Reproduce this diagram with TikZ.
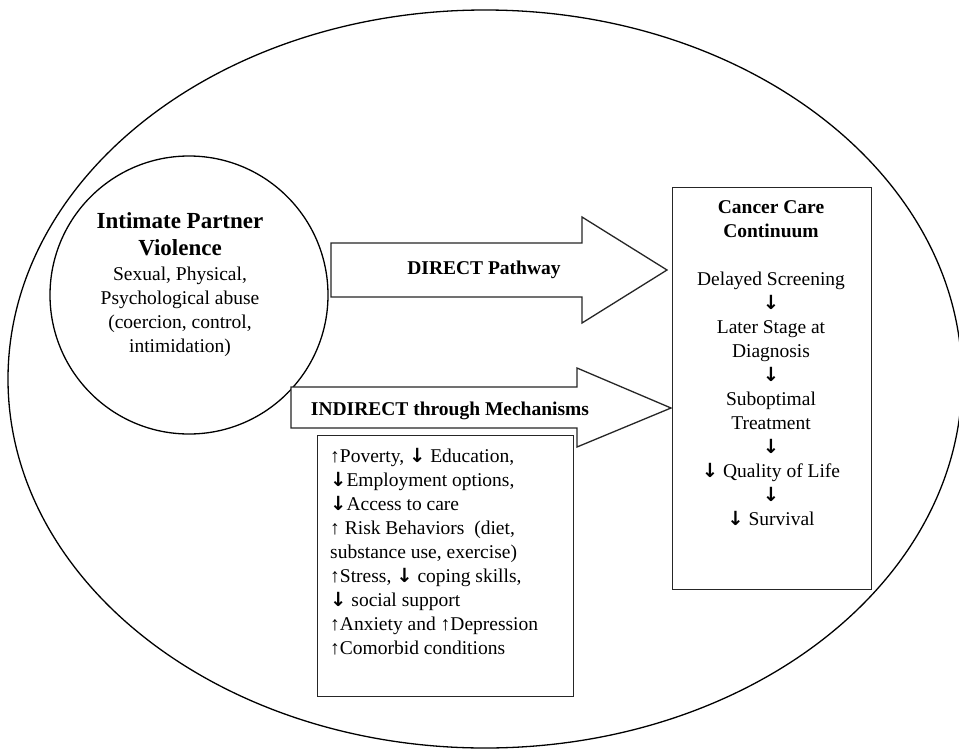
\documentclass[tikz,border=0pt]{standalone}
\usepackage{fontspec}
\setmainfont{Liberation Serif}
\newfontfamily\arrowfont{DejaVu Sans}
\usetikzlibrary{positioning}
\def\dn{{\arrowfont\bfseries ↓}}
\def\up{↑}
\tikzset{
	frame/.style={draw=black!85, line width=1.3pt},
	body/.style={font=\fontsize{19.5}{24}\selectfont, inner sep=0pt},
	heading/.style={font=\fontsize{19.5}{24}\selectfont\bfseries, inner sep=0pt},
}

\begin{document}
\begin{tikzpicture}[x=1pt, y=-1pt]
			%%%%% START %%%%%
			\useasboundingbox (0,0) rectangle (959,750);
			\fill[white] (0,0) rectangle (959,750);
			
			\draw[line width=1.3pt] (485,379) ellipse [x radius=477pt, y radius=369pt];
			
			\draw[line width=1.3pt] (189,295) circle [radius=139pt];
			\node[body, font=\fontsize{23}{27.5}\selectfont\bfseries, align=center, anchor=north] (ipvtitle) at (180,212) {Intimate Partner\\Violence};
			\node[body, align=center, anchor=north] (ipvtext) at (180,267) {Sexual, Physical,\\Psychological abuse\\(coercion, control,\\intimidation)};
			
			\draw[frame, fill=white] (331,243) -- (582,243) -- (582,217) -- (667,270) -- (582,323) -- (582,297) -- (331,297) -- cycle;
			\node[heading, anchor=base] (direct) at (484,274) {DIRECT Pathway};
			
			\draw[frame, fill=white] (291,387) -- (577,387) -- (577,368) -- (671,408) -- (577,447) -- (577,428) -- (291,428) -- cycle;
			\node[heading, anchor=base] (indirect) at (450,415) {INDIRECT through Mechanisms};
			
			\node[frame, fill=white, inner sep=0pt, minimum width=256pt, minimum height=261pt, anchor=north west] (mechbox) at (317,435) {};
			\node[body, align=left, anchor=north west] (mechtext) at (330,448) {\up Poverty, \dn{} Education,\\\dn Employment options,\\\dn Access to care\\\up{} Risk Behaviors~ (diet,\\substance use, exercise)\\\up Stress, \dn{} coping skills,\\\dn{} social support\\\up Anxiety and \up Depression\\\up Comorbid conditions};
			
			\node[frame, fill=white, inner sep=0pt, minimum width=199pt, minimum height=402pt, anchor=north west] (care) at (672,187) {};
			\node[body, align=center, anchor=north] (caretext) at (771,200.5) {\textbf{Cancer Care}\\\textbf{Continuum}\\[24pt]Delayed Screening\\\dn\\Later Stage at\\Diagnosis\\\dn\\Suboptimal\\Treatment\\\dn\\\dn{} Quality of Life\\\dn\\\dn{} Survival};
			
			%%%%% END %%%%%
\end{tikzpicture}
\end{document}
